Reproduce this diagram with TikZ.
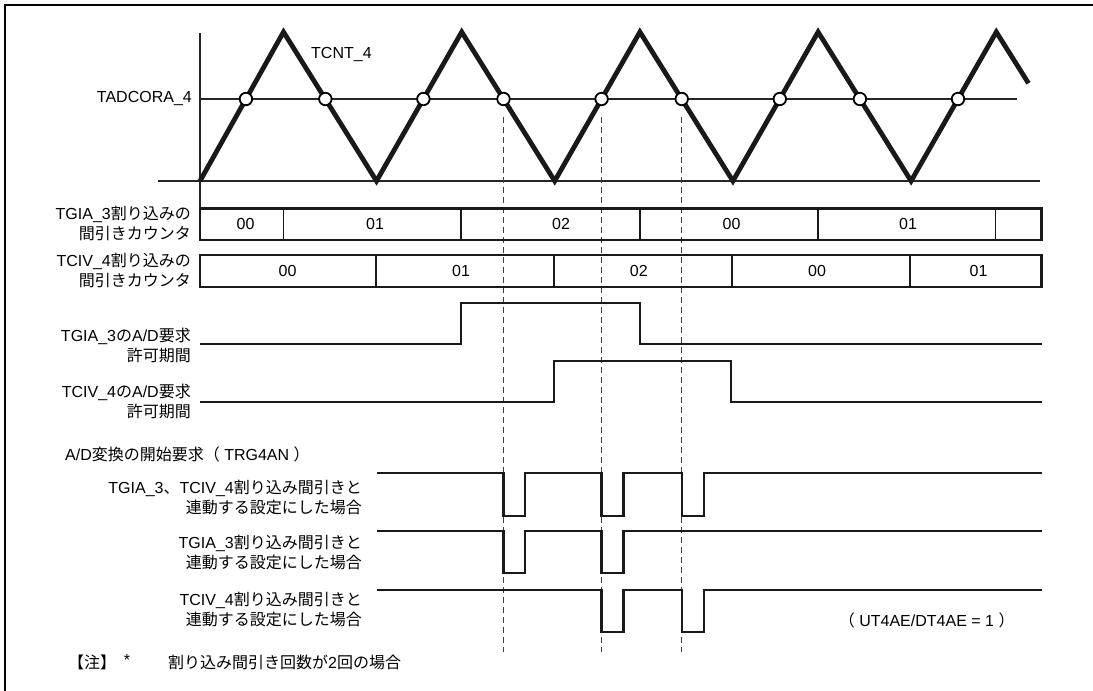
\documentclass[tikz,border=0pt]{standalone}
\usepackage{fontspec}
\setmainfont{Liberation Sans}
\newfontfamily\jp{Noto Sans CJK JP}
\usetikzlibrary{calc}
\begin{document}
\begin{tikzpicture}[x=1pt,y=-1pt,
  txt/.style={font=\fontsize{16}{20}\selectfont, inner sep=0pt, align=right},
  axisline/.style={line width=1.1pt, black!85},
  wavel/.style={line width=4.8pt, line join=miter, black!90},
  xcirc/.style={circle, draw, fill=white, line width=1.8pt, minimum size=12.5pt, inner sep=0pt},
  vdash/.style={line width=1pt, black!75, dash pattern=on 6pt off 4pt},
  boxl/.style={line width=2.4pt, black!90},
  divl/.style={line width=1.8pt, black!90},
  sigl/.style={line width=2.2pt, black!90, line join=miter},
  framel/.style={line width=2.6pt, black}]
\useasboundingbox (0,0) rectangle (1093,691);
% frame
\coordinate (fr0) at (5,691); \coordinate (fr1) at (5,5); \coordinate (fr2) at (1093,5);
\draw[framel] (fr0) -- (fr1) -- (fr2);
% axes
\coordinate (ax0) at (200,33); \coordinate (ax1) at (200,208.3);
\draw[axisline] (ax0) -- (ax1);
\coordinate (ref0) at (200,99); \coordinate (ref1) at (1017,99);
\draw[axisline] (ref0) -- (ref1);
\coordinate (bl0) at (158,181); \coordinate (bl1) at (1040,181);
\draw[axisline] (bl0) -- (bl1);
% triangle wave
\coordinate (v0) at (200,181);
\coordinate (p0) at (283.5,32);
\coordinate (v1) at (376.5,181);
\coordinate (p1) at (461.7,32);
\coordinate (v2) at (554.7,181);
\coordinate (p2) at (639.9,32);
\coordinate (v3) at (732.9,181);
\coordinate (p3) at (818.1,32);
\coordinate (v4) at (911.1,181);
\coordinate (p4) at (996.3,32);
\coordinate (we) at (1028.5,83.3);
\draw[wavel] (v0) -- (p0) -- (v1) -- (p1) -- (v2) -- (p2) -- (v3) -- (p3) -- (v4) -- (p4) -- (we);
% crossing points
\coordinate (c1) at ($(v0)!0.5503!(p0)$);
\coordinate (c2) at ($(p0)!0.4497!(v1)$);
\coordinate (c3) at ($(v1)!0.5503!(p1)$);
\coordinate (c4) at ($(p1)!0.4497!(v2)$);
\coordinate (c5) at ($(v2)!0.5503!(p2)$);
\coordinate (c6) at ($(p2)!0.4497!(v3)$);
\coordinate (c7) at ($(v3)!0.5503!(p3)$);
\coordinate (c8) at ($(p3)!0.4497!(v4)$);
\coordinate (c9) at ($(v4)!0.5503!(p4)$);
\node[xcirc] (k1) at (c1) {};
\node[xcirc] (k2) at (c2) {};
\node[xcirc] (k3) at (c3) {};
\node[xcirc] (k4) at (c4) {};
\node[xcirc] (k5) at (c5) {};
\node[xcirc] (k6) at (c6) {};
\node[xcirc] (k7) at (c7) {};
\node[xcirc] (k8) at (c8) {};
\node[xcirc] (k9) at (c9) {};
\node[txt, anchor=east] (tadc) at (192,99) {TADCORA\_4};
\node[txt, anchor=west] (tcnt) at (311,55) {TCNT\_4};
% dashed markers
\coordinate (dtop) at (0,117); \coordinate (dend) at (0,652);
\draw[vdash] (k4 |- dtop) -- (k4 |- dend);
\draw[vdash] (k5 |- dtop) -- (k5 |- dend);
\draw[vdash] (k6 |- dtop) -- (k6 |- dend);
% TGIA_3 counter
\draw[boxl] (200,208.3) rectangle (1041.6,240);
\foreach \xx in {283.5,461,639.7,817.8,995.5} \draw[divl] (\xx,208.3) -- (\xx,240);
\node[txt] (ga0) at (245.5,224) {00};
\node[txt] (ga1) at (375,224) {01};
\node[txt] (ga2) at (561,224) {02};
\node[txt] (ga3) at (731.5,224) {00};
\node[txt] (ga4) at (908,224) {01};
\node[txt, anchor=east] (lga) at (191,223) {TGIA\_3{\jp 割り込みの}\\{\jp 間引きカウンタ}};
% TCIV_4 counter
\draw[boxl] (200,255) rectangle (1041.6,286.7);
\foreach \xx in {376.3,554,732.2,910.2} \draw[divl] (\xx,255) -- (\xx,286.7);
\node[txt] (cv0) at (287.6,271) {00};
\node[txt] (cv1) at (461,271) {01};
\node[txt] (cv2) at (638.8,271) {02};
\node[txt] (cv3) at (817,271) {00};
\node[txt] (cv4) at (978.5,271) {01};
\node[txt, anchor=east] (lcv) at (191,270) {TCIV\_4{\jp 割り込みの}\\{\jp 間引きカウンタ}};
% A/D request enable periods
\coordinate (ga0s) at (200,344.3); \coordinate (ga0e) at (1041.6,344.3);
\draw[sigl] (ga0s) -- (461,344.3) -- (461,302.7) -- (639.7,302.7) -- (639.7,344.3) -- (ga0e);
\node[txt, anchor=east] (lad1) at (191,345.3) {TGIA\_3{\jp の}A/D{\jp 要求}\\{\jp 許可期間}};
\coordinate (cv0s) at (200,401.7); \coordinate (cv0e) at (1041.6,401.7);
\draw[sigl] (cv0s) -- (554,401.7) -- (554,360.7) -- (731,360.7) -- (731,401.7) -- (cv0e);
\node[txt, anchor=east] (lad2) at (191,401.7) {TCIV\_4{\jp の}A/D{\jp 要求}\\{\jp 許可期間}};
% TRG4AN
\node[txt, anchor=west] (trg) at (65,454) {A/D{\jp 変換の開始要求（} TRG4AN {\jp ）}};
% signal 1
\coordinate (s1a) at (377,473.3); \coordinate (s1b) at (1041.6,473.3);
\draw[sigl] (s1a) -- (k4 |- s1a) -- ++(0,42.7) -- ++(21.7,0) -- ++(0,-42.7)
  -- (k5 |- s1a) -- ++(0,42.7) -- ++(21.9,0) -- ++(0,-42.7)
  -- (k6 |- s1a) -- ++(0,42.7) -- ++(21.9,0) -- ++(0,-42.7) -- (s1b);
\node[txt, anchor=east] (ls1) at (362,497.5) {TGIA\_3{\jp 、}TCIV\_4{\jp 割り込み間引きと}\\{\jp 連動する設定にした場合}};
% signal 2
\coordinate (s2a) at (377,530.7); \coordinate (s2b) at (1041.6,530.7);
\draw[sigl] (s2a) -- (k4 |- s2a) -- ++(0,42) -- ++(21.7,0) -- ++(0,-42)
  -- (k5 |- s2a) -- ++(0,42) -- ++(21.9,0) -- ++(0,-42) -- (s2b);
\node[txt, anchor=east] (ls2) at (362,552.7) {TGIA\_3{\jp 割り込み間引きと}\\{\jp 連動する設定にした場合}};
% signal 3
\coordinate (s3a) at (377,590); \coordinate (s3b) at (1041.6,590);
\draw[sigl] (s3a) -- (k5 |- s3a) -- ++(0,41.7) -- ++(21.9,0) -- ++(0,-41.7)
  -- (k6 |- s3a) -- ++(0,41.7) -- ++(21.9,0) -- ++(0,-41.7) -- (s3b);
\node[txt, anchor=east] (ls3) at (362,609.7) {TCIV\_4{\jp 割り込み間引きと}\\{\jp 連動する設定にした場合}};
\node[txt] (cond) at (926.7,620.7) {{\jp （} UT4AE/DT4AE = 1 {\jp ）}};
% note
\node[txt, anchor=west] (nt0) at (68,662) {{\jp 【注】}};
\node[txt] (nt1) at (127,660) {*};
\node[txt, anchor=west] (nt2) at (168,662) {{\jp 割り込み間引き回数が}2{\jp 回の場合}};
\end{tikzpicture}
\end{document}
